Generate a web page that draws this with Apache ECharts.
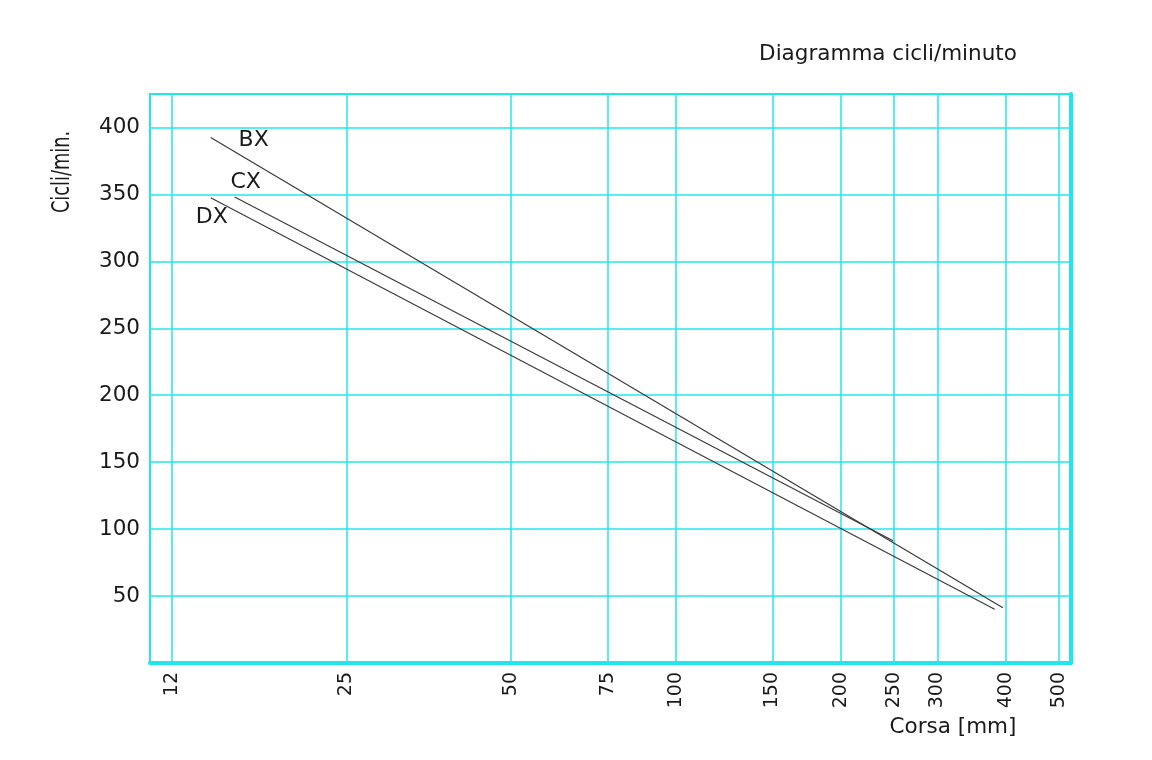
<!DOCTYPE html>
<html>
<head>
<meta charset="utf-8">
<script src="https://cdn.jsdelivr.net/npm/echarts@6/dist/echarts.min.js"></script>
<style>
html,body{margin:0;padding:0;background:#fff;}
#c{width:1152px;height:760px;}
</style>
</head>
<body>
<div id="c"></div>
<script>
// Data (x = Corsa [mm], y = Cicli/min.)
var xTicks = [12, 25, 50, 75, 100, 150, 200, 250, 300, 400, 500];
var yTicks = [50, 100, 150, 200, 250, 300, 350, 400];
var BX = [[14.14, 392.5], [395, 41.3]];
var CX = [[15.64, 348], [249, 91.3]];
var DX = [[14.14, 347.5], [381.6, 40.1]];
var seriesNames = ['BX', 'CX', 'DX'];

var cyan = '#22e6ee';
var txt = '#1a1a1a';
var font = 'DejaVu Sans';

function mk(name, pts, off) {
  return {
    type: 'line',
    name: name,
    data: pts.map(function (p, i) {
      if (i === 0) {
        return { value: p, label: { show: true, formatter: name, position: 'inside', offset: off,
          fontFamily: font, fontSize: 22, color: txt } };
      }
      return { value: p };
    }),
    symbol: 'circle',
    symbolSize: 0.1,
    showSymbol: true,
    itemStyle: { color: '#3a3a3a' },
    lineStyle: { color: '#3a3a3a', width: 1.2 },
    silent: true,
    z: 5
  };
}

var chart = echarts.init(document.getElementById('c'), null, { renderer: 'canvas' });
chart.setOption({
  animation: false,
  backgroundColor: '#fff',
  grid: { left: 150, right: 81, top: 94, bottom: 97, show: true, borderColor: cyan, borderWidth: 2, backgroundColor: 'transparent' },
  xAxis: {
    type: 'log',
    min: 10.956,
    max: 526,
    axisLine: { show: true, lineStyle: { color: cyan, width: 4 } },
    axisTick: { show: false, customValues: xTicks },
    splitLine: { show: true, lineStyle: { color: cyan, width: 1.5 } },
    minorSplitLine: { show: false },
    axisLabel: {
      customValues: xTicks,
      rotate: 90,
      margin: 9,
      fontFamily: font,
      fontSize: 19,
      color: txt,
      formatter: function (v) { return String(Math.round(v)); }
    }
  },
  yAxis: [{
    type: 'value',
    min: 0,
    max: 425,
    interval: 50,
    axisLine: { show: true, lineStyle: { color: cyan, width: 2 } },
    axisTick: { show: false },
    splitLine: { show: true, lineStyle: { color: cyan, width: 1.5 } },
    axisLabel: {
      customValues: yTicks,
      margin: 10,
      fontFamily: font,
      fontSize: 21.5,
      color: txt
    }
  }, {
    type: 'value',
    position: 'right',
    min: 0,
    max: 425,
    interval: 50,
    axisLine: { show: true, lineStyle: { color: cyan, width: 4 } },
    axisTick: { show: false },
    splitLine: { show: false },
    axisLabel: { show: false }
  }],
  graphic: [
    { type: 'text', x: 888, y: 54, style: { text: 'Diagramma cicli/minuto', font: '21.5px "DejaVu Sans"', fill: txt, textAlign: 'center', textVerticalAlign: 'middle' } },
    { type: 'text', x: 953, y: 727, style: { text: 'Corsa [mm]', font: '21.5px "DejaVu Sans"', fill: txt, textAlign: 'center', textVerticalAlign: 'middle' } },
    { type: 'text', x: 63, y: 172, rotation: Math.PI / 2, scaleX: 0.74, style: { text: 'Cicli/min.', font: '24px "DejaVu Sans"', fill: txt, textAlign: 'center', textVerticalAlign: 'middle' } }
  ],
  series: [
    mk(seriesNames[0], BX, [43, 3]),
    mk(seriesNames[1], CX, [11, -15]),
    mk(seriesNames[2], DX, [1, 20])
  ]
});
</script>
</body>
</html>
